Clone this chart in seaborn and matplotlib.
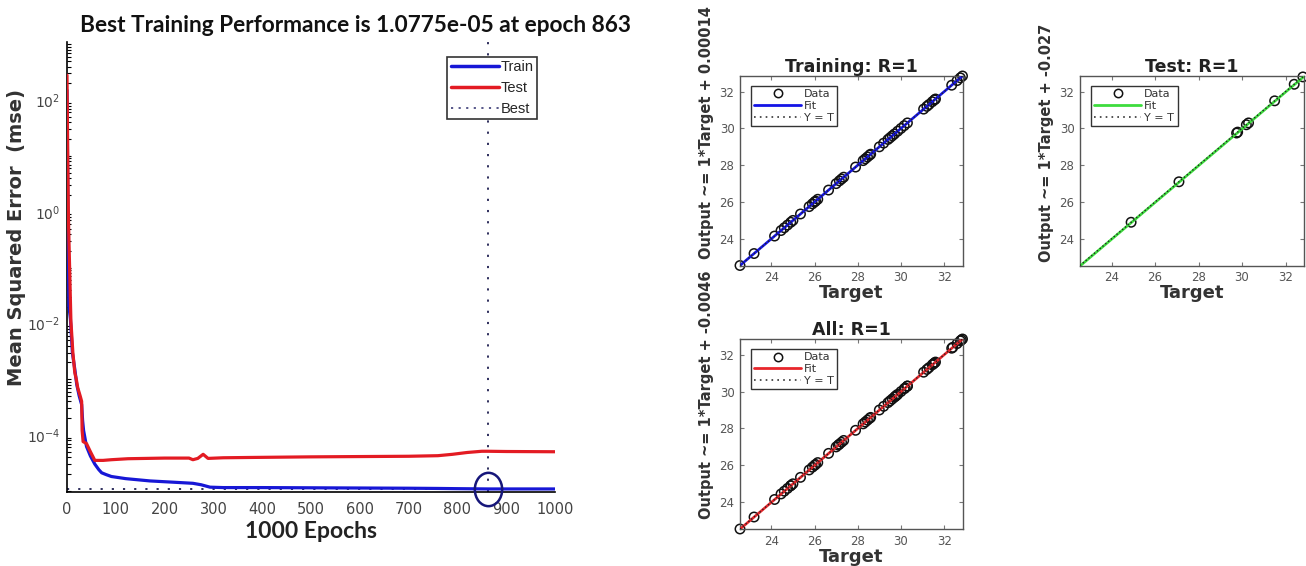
import matplotlib
matplotlib.use("Agg")
import numpy as np
import pandas as pd
import matplotlib.pyplot as plt
import seaborn as sns
from matplotlib.path import Path
from matplotlib.transforms import Affine2D
from matplotlib.lines import Line2D
from matplotlib.ticker import LogLocator, LogFormatterSciNotation, NullFormatter, FixedLocator

# ---------------- data: performance curve ----------------
train_epochs = [0, 2, 4, 7, 11, 16, 20, 25, 30, 32, 34, 40, 48, 57, 65, 71, 80, 91, 120, 170,
                220, 258, 275, 293, 320, 400, 500, 600, 700, 760, 800, 863, 900, 1000]
train_mse = [150, 0.5, 2e-2, 1.2e-2, 3e-3, 1.5e-3, 8e-4, 5e-4, 3.5e-4, 1.8e-4,
             1.2e-4, 6.2e-5, 4.2e-5, 3.0e-5, 2.4e-5, 2.1e-5, 1.95e-5, 1.8e-5, 1.65e-5, 1.5e-5,
             1.42e-5, 1.36e-5, 1.28e-5, 1.16e-5, 1.14e-5, 1.14e-5, 1.13e-5, 1.12e-5, 1.11e-5, 1.10e-5,
             1.09e-5, 1.0775e-5, 1.0775e-5, 1.0775e-5]
test_epochs = [0, 1, 3, 8, 12, 16, 19, 22, 27, 30, 31, 33, 40, 48, 57, 74, 91, 125, 200, 250,
               258, 268, 279, 289, 320, 375, 500, 600, 700, 760, 790, 820, 850, 863, 900, 1000]
test_mse = [280, 30, 0.7, 1.1e-2, 3e-3, 1.3e-3, 1e-3, 7e-4, 5e-4, 4e-4,
            1.2e-4, 7.6e-5, 7e-5, 5e-5, 3.5e-5, 3.5e-5, 3.6e-5, 3.75e-5, 3.85e-5, 3.85e-5,
            3.6e-5, 3.8e-5, 4.5e-5, 3.8e-5, 3.9e-5, 3.95e-5, 4.05e-5, 4.1e-5, 4.15e-5, 4.25e-5,
            4.5e-5, 4.85e-5, 5.1e-5, 5.1e-5, 5.05e-5, 5.0e-5]
best_epoch = 863
best_perf = 1.0775e-05
epoch_ticks = [0, 100, 200, 300, 400, 500, 600, 700, 800, 900, 1000]
mse_ticks = [1e-4, 1e-2, 1e0, 1e2]
mse_limits = [9.5e-6, 1.1e3]

# ---------------- data: regression panels ----------------
train_target = [22.55, 23.2, 24.15, 24.45, 24.6, 24.75, 24.9, 25.0, 25.35, 25.75, 25.9, 26.0,
                26.05, 26.15, 26.65, 27.0, 27.15, 27.25, 27.35, 27.9, 28.25, 28.35, 28.45, 28.55,
                28.6, 29.0, 29.2, 29.4, 29.5, 29.6, 29.7, 29.85, 30.0, 30.15, 30.3, 31.05, 31.2,
                31.3, 31.45, 31.55, 31.6, 32.35, 32.6, 32.75, 32.85]
train_output = [22.55, 23.2, 24.15, 24.45, 24.6, 24.75, 24.9, 25.0, 25.35, 25.75, 25.9, 26.0,
                26.05, 26.15, 26.65, 27.0, 27.15, 27.25, 27.35, 27.9, 28.25, 28.35, 28.45, 28.55,
                28.6, 29.0, 29.2, 29.4, 29.5, 29.6, 29.7, 29.85, 30.0, 30.15, 30.3, 31.05, 31.2,
                31.3, 31.45, 31.55, 31.6, 32.35, 32.6, 32.75, 32.85]
test_target = [24.9, 27.1, 29.75, 29.8, 30.2, 30.3, 31.5, 32.4, 32.8]
test_output = [24.9, 27.1, 29.75, 29.8, 30.2, 30.3, 31.5, 32.4, 32.8]
panel_names = ["Training", "Test", "All"]
panel_R = [1, 1, 1]
fit_slopes = [1, 1, 1]
fit_intercepts = [0.00014, -0.027, -0.0046]
fit_colors = ["#1414e6", "#3ddc3d", "#e8262b"]
target_ticks = [24, 26, 28, 30, 32]

# ---------------- figure ----------------
sns.set_theme(style="white")
plt.rcParams["font.family"] = ["DejaVu Sans"]
plt.rcParams["mathtext.default"] = "regular"
plt.rcParams["axes.unicode_minus"] = False

W, H = 1306, 566
fig = plt.figure(figsize=(W / 100, H / 100), dpi=100)
fig.patch.set_facecolor("white")


def rect(l, r, t, b):
    return [l / W, 1 - b / H, (r - l) / W, (b - t) / H]


# ---- performance panel ----
ax = fig.add_axes(rect(67, 555, 42, 492))
perf = pd.concat([
    pd.DataFrame({"Epoch": train_epochs, "MSE": train_mse, "Set": "Train"}),
    pd.DataFrame({"Epoch": test_epochs, "MSE": test_mse, "Set": "Test"}),
])
perf_colors = {"Train": "#1717d6", "Test": "#e31b23"}
ax.axhline(best_perf, color="#1e1e50", lw=1.3, ls=(0, (1.2, 5)), zorder=1)
ax.axvline(best_epoch, color="#1e1e50", lw=1.3, ls=(0, (1.2, 5)), zorder=1)
sns.lineplot(data=perf, x="Epoch", y="MSE", hue="Set", palette=perf_colors,
             estimator=None, sort=False, lw=2.3, ax=ax, legend=False, zorder=3)
ell = Affine2D().scale(0.82, 1.0).transform_path(Path.unit_circle())
ax.plot([best_epoch], [best_perf], marker=ell, ms=24, mfc="none", mec="#16167a",
        mew=1.8, ls="none", zorder=4, clip_on=False)
ax.set_yscale("log")
ax.set_xlim(epoch_ticks[0], epoch_ticks[-1])
ax.set_ylim(*mse_limits)
ax.xaxis.set_major_locator(FixedLocator(epoch_ticks))
ax.yaxis.set_major_locator(FixedLocator(mse_ticks))
ax.yaxis.set_major_formatter(LogFormatterSciNotation(base=10))
ax.yaxis.set_minor_locator(LogLocator(base=10, subs=np.arange(1, 10), numticks=60))
ax.yaxis.set_minor_formatter(NullFormatter())
ax.tick_params(axis="both", which="major", direction="in", length=5, width=1,
               colors="black", labelcolor="#444444", labelsize=10.5, pad=7)
ax.tick_params(axis="y", which="major", labelsize=10, pad=5)
ax.tick_params(axis="y", which="minor", direction="in", length=3, width=0.8, colors="black",
               left=True)
for s in ["top", "right"]:
    ax.spines[s].set_visible(False)
for s in ["left", "bottom"]:
    ax.spines[s].set_color("black")
    ax.spines[s].set_linewidth(1.2)
ax.set_xlabel("1000 Epochs", fontfamily="Lato", fontweight="bold", fontsize=16.5,
              color="#222222", labelpad=3)
ax.set_ylabel("")
ax.set_title(f"Best Training Performance is {best_perf:.4e} at epoch {best_epoch}",
             fontfamily="Lato", fontweight="bold", fontsize=16.3, color="#111111",
             x=0.592, pad=7)
fig.text(17 / W, 1 - 237 / H, "Mean Squared Error  (mse)", rotation=90, ha="center",
         va="center", fontsize=14, fontweight="bold", color="#333333")
handles = [Line2D([], [], color=perf_colors["Train"], lw=2.5),
           Line2D([], [], color=perf_colors["Test"], lw=2.5),
           Line2D([], [], color="#4a4a80", lw=1.3, ls=(0, (1.2, 3)))]
leg = ax.legend(handles, ["Train", "Test", "Best"], loc="upper right",
                bbox_to_anchor=(0.963, 0.967), borderaxespad=0,
                handlelength=3.3, handletextpad=0.1, labelspacing=0.45, borderpad=0.25,
                fancybox=False, framealpha=1, prop={"family": "Liberation Sans", "size": 10.5})
leg.get_frame().set_edgecolor("#333333")
leg.get_frame().set_linewidth(1.2)

# ---- regression panels ----
reg_data = {
    "Training": (train_target, train_output),
    "Test": (test_target, test_output),
    "All": (train_target + test_target, train_output + test_output),
}
all_vals = train_target + test_target + train_output + test_output
lims = (min(all_vals), max(all_vals))
rects = [rect(740, 962.5, 76, 265.5), rect(1080, 1304, 76, 265.5), rect(740, 962.5, 339, 529)]
label_pos = [(706, 133), (1046, 143), (706, 395)]

for name, R, a, b, col, rc, lp in zip(panel_names, panel_R, fit_slopes, fit_intercepts,
                                       fit_colors, rects, label_pos):
    t, o = reg_data[name]
    axr = fig.add_axes(rc)
    sns.scatterplot(x=t, y=o, ax=axr, marker="o", s=46, facecolors="none",
                    edgecolor="#111111", linewidth=1.1, clip_on=False, zorder=2)
    axr.axline((0, b), slope=a, color=col, lw=1.9, zorder=3)
    axr.axline((0, 0), slope=1, color="#222222", lw=1.0, ls=":", zorder=4)
    axr.set_xlim(*lims)
    axr.set_ylim(*lims)
    axr.set_xticks(target_ticks)
    axr.set_yticks(target_ticks)
    axr.tick_params(axis="both", direction="in", length=3, width=0.8, colors="#777777",
                    labelcolor="#555555", labelsize=8.5, pad=4,
                    top=True, right=True, bottom=True, left=True)
    for s in axr.spines.values():
        s.set_color("#555555")
        s.set_linewidth(1.0)
        s.set_visible(True)
    axr.set_title(f"{name}: R={R}", fontsize=12.5, fontweight="bold", color="#222222", pad=3)
    axr.set_xlabel("Target", fontsize=13, fontweight="bold", color="#333333", labelpad=0)
    axr.set_ylabel("")
    fig.text(lp[0] / W, 1 - lp[1] / H, f"Output ~= {a}*Target + {b:.2g}", rotation=90,
             ha="center", va="center", fontsize=10.5, fontweight="bold", color="#333333")
    h = [Line2D([], [], marker="o", ls="none", mfc="none", mec="#111111", ms=6, mew=1.1),
         Line2D([], [], color=col, lw=2),
         Line2D([], [], color="#333333", lw=1.2, ls=(0, (1, 2.5)))]
    lg = axr.legend(h, ["Data", "Fit", "Y = T"], loc="upper left",
                    bbox_to_anchor=(0.049, 0.947), borderaxespad=0, fontsize=8,
                    handlelength=4.2, handletextpad=0.3, labelspacing=0.15, borderpad=0.3,
                    fancybox=False, framealpha=1, labelcolor="#333333")
    lg.get_frame().set_edgecolor("#333333")
    lg.get_frame().set_linewidth(1.0)

fig.savefig("out.png", dpi=100, facecolor="white")
